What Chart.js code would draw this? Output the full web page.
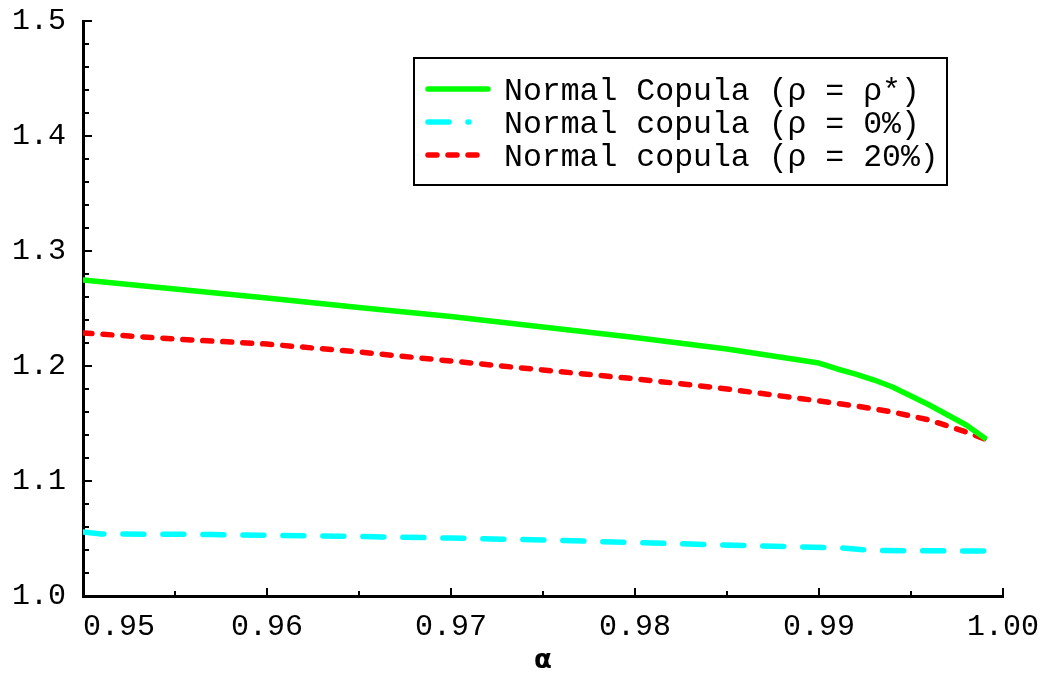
<!DOCTYPE html>
<html>
<head>
<meta charset="utf-8">
<script src="https://cdn.jsdelivr.net/npm/chart.js@4.4.1/dist/chart.umd.min.js"></script>
<style>
	html, body { margin: 0; padding: 0; background: #fff; }
	#grafico { display: block; }
</style>
</head>
<body>
<canvas id="grafico" width="1063" height="677"></canvas>
<script>
// alpha (x) and ratio (y) for each curve
var alfaRhoEstrela = [0.950, 0.955, 0.960, 0.965, 0.970, 0.975, 0.980, 0.985, 0.990, 0.991, 0.992, 0.993, 0.994, 0.995, 0.996, 0.997, 0.998, 0.999];
var rhoEstrela = [1.2748, 1.2670, 1.2591, 1.2509, 1.2430, 1.2339, 1.2248, 1.2148, 1.2026, 1.1974, 1.1930, 1.1878, 1.1817, 1.1739, 1.1661, 1.1574, 1.1487, 1.1374];

var alfaRho0 = [0.950, 0.951, 0.957, 0.964, 0.970, 0.975, 0.980, 0.983, 0.987, 0.991, 0.993, 0.999];
var rho0 = [1.0557, 1.0539, 1.0535, 1.0520, 1.0504, 1.0487, 1.0465, 1.0452, 1.0435, 1.0420, 1.0395, 1.0391];

var alfaRho20 = [0.950, 0.955, 0.960, 0.965, 0.970, 0.975, 0.980, 0.985, 0.990, 0.992, 0.994, 0.996, 0.998, 0.999];
var rho20 = [1.2287, 1.2235, 1.2191, 1.2122, 1.2043, 1.1965, 1.1889, 1.1800, 1.1696, 1.1652, 1.1600, 1.1530, 1.1426, 1.1365];

var rotulosSeries = ['Normal Copula (ρ = ρ*)', 'Normal copula (ρ = 0%)', 'Normal copula (ρ = 20%)'];
var rotuloX = 'α';

// tick label values
var ticksX = [0.95, 0.96, 0.97, 0.98, 0.99, 1.00];
var ticksY = [1.0, 1.1, 1.2, 1.3, 1.4, 1.5];

function pontos(xs, ys) {
	var lista = [];
	for (var i = 0; i < xs.length; i++) {
		lista.push({ x: xs[i], y: ys[i] });
	}
	return lista;
}

// small inward tick marks on both axes
var marcasInternas = {
	id: 'marcasInternas',
	beforeDatasetsDraw: function (chart) {
		var ctx = chart.ctx;
		var sx = chart.scales.x;
		var sy = chart.scales.y;
		ctx.save();
		ctx.strokeStyle = '#000';
		ctx.lineWidth = 2;
		ctx.beginPath();
		for (var i = 0; i <= 25; i++) {
			var py = Math.round(sy.getPixelForValue(1.0 + i * 0.02));
			var lenY = (i % 5 === 0) ? 9 : 6;
			ctx.moveTo(sx.left, py);
			ctx.lineTo(sx.left + lenY, py);
		}
		for (var j = 0; j <= 10; j++) {
			var px = Math.round(sx.getPixelForValue(0.95 + j * 0.005));
			var lenX = (j % 2 === 0) ? 8 : 5;
			ctx.moveTo(px, sy.bottom);
			ctx.lineTo(px, sy.bottom - lenX);
		}
		ctx.stroke();
		ctx.restore();
	}
};

// boxed legend inside the plot
var legendaCaixa = {
	id: 'legendaCaixa',
	afterDraw: function (chart, args, opts) {
		var ctx = chart.ctx;
		var area = chart.chartArea;
		var esq = area.left + opts.left;
		var topo = area.top + opts.top;
		ctx.save();
		ctx.strokeStyle = '#000';
		ctx.lineWidth = 2;
		ctx.strokeRect(esq, topo, opts.width, opts.height);

		var sets = chart.data.datasets;
		for (var i = 0; i < sets.length; i++) {
			var ds = sets[i];
			var yl = topo + opts.firstRow + i * opts.rowGap;
			ctx.beginPath();
			ctx.strokeStyle = ds.borderColor;
			ctx.lineWidth = ds.borderWidth;
			ctx.lineCap = 'round';
			ctx.setLineDash(ds.borderDash || []);
			ctx.moveTo(esq + 14, yl);
			ctx.lineTo(esq + 14 + ds.amostra, yl);
			ctx.stroke();
			ctx.setLineDash([]);

			ctx.fillStyle = '#000';
			ctx.font = '31.5px "Liberation Mono"';
			ctx.textBaseline = 'alphabetic';
			ctx.textAlign = 'left';
			ctx.fillText(ds.label, esq + 90, yl + 11);
		}
		ctx.restore();
	}
};

var fonteTicks = { family: '"Liberation Mono", "DejaVu Sans Mono", monospace', size: 30 };

var ctx = document.getElementById('grafico').getContext('2d');
var grafico = new Chart(ctx, {
	type: 'line',
	data: {
		datasets: [{
			label: rotulosSeries[0],
			data: pontos(alfaRhoEstrela, rhoEstrela),
			borderColor: '#00ff00',
			borderWidth: 5.5,
			amostra: 60
		}, {
			label: rotulosSeries[1],
			data: pontos(alfaRho0, rho0),
			borderColor: '#00ffff',
			borderWidth: 5.5,
			borderDash: [21, 19],
			amostra: 41
		}, {
			label: rotulosSeries[2],
			data: pontos(alfaRho20, rho20),
			borderColor: '#ff0000',
			borderWidth: 5.5,
			borderDash: [9, 11],
			amostra: 49
		}]
	},
	options: {
		responsive: false,
		animation: false,
		events: [],
		layout: { padding: { top: 21, right: 60, left: 0, bottom: 0 } },
		elements: {
			point: { radius: 0 },
			line: { tension: 0, borderCapStyle: 'round', borderJoinStyle: 'round', fill: false }
		},
		plugins: {
			legend: { display: false },
			tooltip: { enabled: false },
			legendaCaixa: { left: 331, top: 37, width: 533, height: 127, firstRow: 31, rowGap: 33 }
		},
		scales: {
			x: {
				type: 'linear',
				min: 0.95,
				max: 1.00,
				grid: { display: false },
				border: { display: true, color: '#000', width: 3 },
				afterBuildTicks: function (scale) {
					scale.ticks = ticksX.map(function (v) { return { value: v }; });
				},
				afterFit: function (scale) {
					scale.height = 81;
					scale.paddingLeft = 0;
					scale.paddingRight = 0;
				},
				ticks: {
					color: '#000',
					font: fonteTicks,
					padding: 5,
					maxRotation: 0,
					autoSkip: false,
					callback: function (v, i) {
						// first label is pushed right so it clears the y axis
						return i === 0 ? '    ' + v.toFixed(2) : v.toFixed(2);
					}
				},
				title: {
					display: true,
					text: rotuloX,
					color: '#000',
					font: { family: '"DejaVu Sans"', size: 26, weight: 'bold' },
					padding: { top: 0, bottom: 0 }
				}
			},
			y: {
				min: 1.0,
				max: 1.5,
				grid: { display: false },
				border: { display: true, color: '#000', width: 3 },
				afterBuildTicks: function (scale) {
					scale.ticks = ticksY.map(function (v) { return { value: v }; });
				},
				afterFit: function (scale) {
					scale.width = 83;
					scale.paddingTop = 0;
					scale.paddingBottom = 0;
				},
				ticks: {
					color: '#000',
					font: fonteTicks,
					padding: 9,
					callback: function (v) { return v.toFixed(1); }
				}
			}
		}
	},
	plugins: [marcasInternas, legendaCaixa]
});
</script>
</body>
</html>
